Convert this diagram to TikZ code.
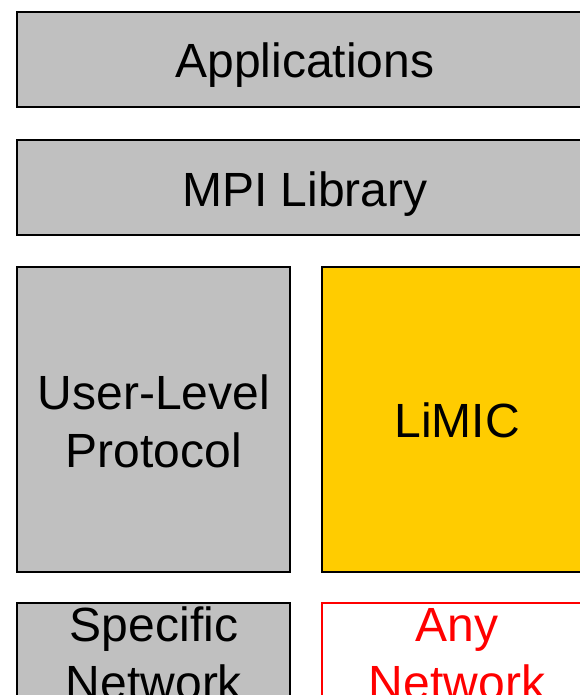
\documentclass[tikz,border=0pt]{standalone}
\usepackage{fontspec}
\setmainfont{Liberation Sans}
\definecolor{layergray}{HTML}{C0C0C0}
\definecolor{limicgold}{HTML}{FFCC00}
\definecolor{netred}{HTML}{FF0000}
\begin{document}
\begin{tikzpicture}[x=1pt,y=-1pt,
  layer/.style={draw=black, line width=2pt, fill=layergray, rectangle, inner sep=0pt, outer sep=0pt},
  gold/.style={layer, fill=limicgold},
  open/.style={draw=netred, line width=2pt, fill=white, rectangle, inner sep=0pt, outer sep=0pt},
  label/.style={font=\fontsize{48}{58}\selectfont, align=center, inner sep=0pt, anchor=base}]
\useasboundingbox (0,0) rectangle (580,695);
\clip (0,0) rectangle (580,695);
% stacked software layers
\node[layer, minimum width=576pt, minimum height=95pt] (app) at (305,59.5) {};
\node[label] (apptxt) at (305,77.5) {Applications};
\node[layer, minimum width=576pt, minimum height=95pt] (mpi) at (305,187.5) {};
\node[label] (mpitxt) at (305,206) {MPI Library};
\node[layer, minimum width=273pt, minimum height=305pt] (ulp) at (153.5,419.5) {};
\node[label] (ulptxt) at (154,467) {User-Level\\Protocol};
\node[gold, minimum width=271pt, minimum height=305pt] (limic) at (457.5,419.5) {};
\node[label] (limictxt) at (457,437) {LiMIC};
% network layer
\node[layer, minimum width=273pt, minimum height=200pt] (spec) at (153.5,703) {};
\node[label] (spectxt) at (154,699) {Specific\\Network};
\node[open, minimum width=271pt, minimum height=200pt] (any) at (457.5,703) {};
\node[label, text=netred] (anytxt) at (457,699) {Any\\Network};
\end{tikzpicture}
\end{document}
